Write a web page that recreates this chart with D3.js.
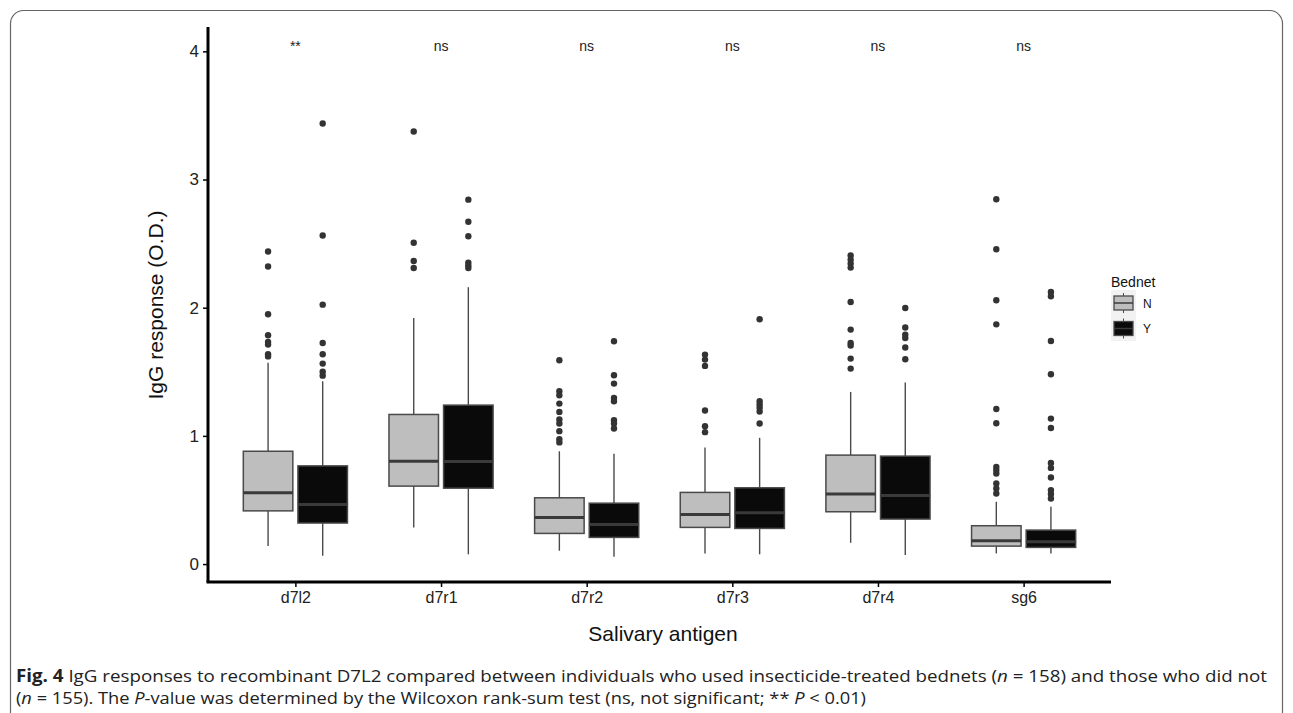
<!DOCTYPE html>
<html><head><meta charset="utf-8">
<script src="https://cdn.jsdelivr.net/npm/d3@7"></script>
<style>body{margin:0;background:#fff}</style>
</head><body><svg id="c" width="1293" height="713"></svg>
<script>
const categories = ["d7l2","d7r1","d7r2","d7r3","d7r4","sg6"];
const groups = ["N","Y"];
const groupFill = ["#bebebe","#0a0a0a"];
const sigLabels = ["**","ns","ns","ns","ns","ns"];
const yTicks = [0,1,2,3,4];
// [lowerWhisker, Q1, median, Q3, upperWhisker]
const statsN = [
 [0.14,0.415,0.556,0.88,1.57],
 [0.286,0.608,0.803,1.167,1.92],
 [0.104,0.239,0.364,0.517,0.88],
 [0.083,0.286,0.387,0.559,0.91],
 [0.166,0.408,0.546,0.85,1.343],
 [0.083,0.14,0.182,0.299,0.486]
];
const statsY = [
 [0.065,0.32,0.465,0.766,1.426],
 [0.076,0.592,0.80,1.24,2.16],
 [0.057,0.208,0.309,0.475,0.86],
 [0.076,0.278,0.40,0.595,0.985],
 [0.07,0.351,0.535,0.842,1.416],
 [0.083,0.13,0.174,0.265,0.447]
];
const outliersN = [
 [2.438,2.321,1.949,1.785,1.733,1.712,1.637,1.62],
 [3.375,2.507,2.364,2.31],
 [1.59,1.348,1.317,1.252,1.187,1.128,1.097,1.037,0.974,0.949],
 [1.634,1.595,1.546,1.198,1.076,1.029],
 [2.408,2.375,2.344,2.313,2.044,1.829,1.725,1.705,1.603,1.525],
 [2.846,2.456,2.058,1.87,1.21,1.099,0.758,0.733,0.707,0.629,0.59,0.551]
];
const outliersY = [
 [3.437,2.563,2.024,1.725,1.637,1.564,1.50,1.47],
 [2.843,2.671,2.557,2.352,2.33,2.31],
 [1.738,1.473,1.408,1.296,1.27,1.122,1.097,1.058],
 [1.91,1.27,1.245,1.22,1.19,1.097],
 [1.998,1.845,1.79,1.764,1.689,1.598],
 [2.122,2.089,1.74,1.481,1.135,1.062,0.789,0.75,0.675,0.577,0.546,0.512]
];

const svg = d3.select("#c");
const font = "'Liberation Sans', Arial, Helvetica, sans-serif";

// frame
svg.append("rect").attr("x",10.5).attr("y",10.5).attr("width",1272).attr("height",740)
  .attr("rx",13).attr("fill","none").attr("stroke","#666").attr("stroke-width",1.2);

const x = d3.scalePoint().domain(categories).range([208,1111]).padding(0.6);
const step = x.step();
const y = d3.scaleLinear().domain([-0.14,4.19]).range([582,27]);
const dodge = d3.scalePoint().domain(groups).range([-0.1875*step,0.1875*step]);
const bw = 0.34*step;

const stats = [statsN, statsY];
const outs = [outliersN, outliersY];
const g = svg.append("g");
const outline = "#4a4a4a";

categories.forEach((c,i)=>{
  groups.forEach((gr,k)=>{
    const s = stats[k][i];
    const cx = x(c)+dodge(gr);
    g.append("line").attr("x1",cx).attr("x2",cx).attr("y1",y(s[3])).attr("y2",y(s[4]))
      .attr("stroke",outline).attr("stroke-width",1.4);
    g.append("line").attr("x1",cx).attr("x2",cx).attr("y1",y(s[0])).attr("y2",y(s[1]))
      .attr("stroke",outline).attr("stroke-width",1.4);
    g.append("rect").attr("x",cx-bw/2).attr("width",bw)
      .attr("y",y(s[3])).attr("height",y(s[1])-y(s[3]))
      .attr("fill",groupFill[k]).attr("stroke",outline).attr("stroke-width",1.5);
    g.append("line").attr("x1",cx-bw/2).attr("x2",cx+bw/2).attr("y1",y(s[2])).attr("y2",y(s[2]))
      .attr("stroke","#3a3a3a").attr("stroke-width",3);
    g.selectAll(null).data(outs[k][i]).enter().append("circle")
      .attr("cx",cx).attr("cy",d=>y(d)).attr("r",3.2).attr("fill","#333");
  });
  svg.append("text").attr("x",x(c)).attr("y",y(4)).attr("text-anchor","middle")
    .attr("font-family",font).attr("font-size",14).attr("fill","#222").text(sigLabels[i]);
});

// y axis
const yAxis = svg.append("g").attr("transform","translate(208,0)")
  .call(d3.axisLeft(y).tickValues(yTicks).tickSize(5).tickPadding(4).tickFormat(d3.format("d")));
yAxis.select(".domain").attr("d","M0,27V582").attr("stroke","#000").attr("stroke-width",3);
yAxis.selectAll(".tick line").attr("stroke","#000").attr("stroke-width",1.5);
yAxis.selectAll(".tick text").attr("font-family",font).attr("font-size",17).attr("fill","#222");

// x axis
const xAxis = svg.append("g").attr("transform","translate(0,582)")
  .call(d3.axisBottom(x).tickSize(5).tickPadding(5));
xAxis.select(".domain").attr("d","M206.5,0H1111").attr("stroke","#000").attr("stroke-width",3);
xAxis.selectAll(".tick line").attr("stroke","#000").attr("stroke-width",1.5);
xAxis.selectAll(".tick text").attr("font-family",font).attr("font-size",16).attr("fill","#222");

// axis titles
svg.append("text").attr("transform","translate(163,305) rotate(-90)").attr("text-anchor","middle")
  .attr("font-family",font).attr("font-size",21).attr("fill","#111").text("IgG response (O.D.)");
svg.append("text").attr("x",663).attr("y",641).attr("text-anchor","middle")
  .attr("font-family",font).attr("font-size",21).attr("fill","#111").text("Salivary antigen");

// legend
const lg = svg.append("g");
lg.append("text").attr("x",1111).attr("y",287).attr("font-family",font).attr("font-size",14)
  .attr("fill","#111").text("Bednet");
lg.append("rect").attr("x",1111).attr("y",290).attr("width",25).attr("height",51).attr("fill","#f2f2f2");
groups.forEach((gr,k)=>{
  const cy = 303 + k*25.5;
  lg.append("line").attr("x1",1123.5).attr("x2",1123.5).attr("y1",cy-10).attr("y2",cy+10)
    .attr("stroke",outline).attr("stroke-width",1);
  lg.append("rect").attr("x",1114).attr("y",cy-7).attr("width",19).attr("height",14)
    .attr("fill",groupFill[k]).attr("stroke",outline).attr("stroke-width",1.3);
  lg.append("line").attr("x1",1114).attr("x2",1133).attr("y1",cy).attr("y2",cy)
    .attr("stroke","#3a3a3a").attr("stroke-width",1.5);
  lg.append("text").attr("x",1143).attr("y",cy+4.5).attr("font-family",font).attr("font-size",12)
    .attr("fill","#111").text(gr);
});

// caption
const cfont = "'Open Sans', sans-serif";
const l1 = svg.append("text").attr("x",16).attr("y",682).attr("font-family",cfont).attr("font-size",17)
  .attr("fill","#222").attr("textLength",1251).attr("lengthAdjust","spacingAndGlyphs");
l1.append("tspan").attr("font-weight","bold").text("Fig. 4");
l1.append("tspan").text("  IgG responses to recombinant D7L2 compared between individuals who used insecticide-treated bednets (");
l1.append("tspan").attr("font-style","italic").text("n");
l1.append("tspan").text(" = 158) and those who did not");
const l2 = svg.append("text").attr("x",16).attr("y",704).attr("font-family",cfont).attr("font-size",17)
  .attr("fill","#222").attr("textLength",850).attr("lengthAdjust","spacingAndGlyphs");
l2.append("tspan").text("(");
l2.append("tspan").attr("font-style","italic").text("n");
l2.append("tspan").text(" = 155). The ");
l2.append("tspan").attr("font-style","italic").text("P");
l2.append("tspan").text("-value was determined by the Wilcoxon rank-sum test (ns, not significant; ** ");
l2.append("tspan").attr("font-style","italic").text("P");
l2.append("tspan").text(" < 0.01)");
</script></body></html>
